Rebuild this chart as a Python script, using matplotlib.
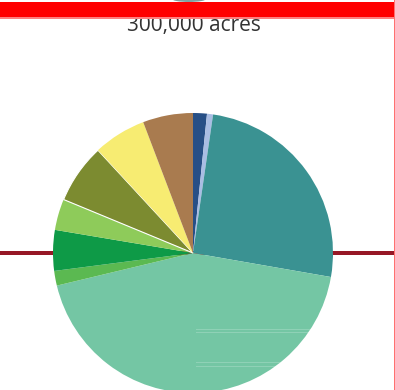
import matplotlib.pyplot as plt
from matplotlib.patches import Rectangle, Ellipse

# land use shares, clockwise from the top
categories = ['Dark blue', 'Light blue', 'Teal', 'Light teal', 'Mid green',
              'Green', 'Light green', 'Olive', 'Yellow', 'Brown']
shares = [1.6, 0.7, 25.5, 43.6, 1.7, 4.7, 3.6, 6.9, 6.1, 5.8]
colors = ['#274f86', '#a9bde3', '#3a9292', '#74c6a4', '#5bb951',
          '#0e9a47', '#8ecb5a', '#7c8b30', '#f7ec72', '#a97b4f']
total_label = '300,000 acres'

W, H = 395, 390
fig = plt.figure(figsize=(W / 100, H / 100), dpi=100)
fig.patch.set_facecolor('white')

# maroon rule across the page, behind the pie
fig.add_artist(Rectangle((0, (H - 255) / H), 1, 4 / H, transform=fig.transFigure,
                         facecolor='#961826', edgecolor='none', zorder=0))

cx, cy, r = 193, 253, 140
ax = fig.add_axes([(cx - r) / W, (H - cy - r) / H, 2 * r / W, 2 * r / H])
ax.set_zorder(1)
ax.patch.set_alpha(0)
wedges, _ = ax.pie(shares, colors=colors, startangle=90, counterclock=False,
                   radius=1, wedgeprops=dict(linewidth=0))
# thin white gap between olive and yellow
wedges[7].set_edgecolor('white')
wedges[7].set_linewidth(0.8)
ax.set_xlim(-1, 1)
ax.set_ylim(-1, 1)
ax.set_aspect('equal')
ax.axis('off')

# faint ghost rows inside the big slice
for y in [330, 333, 363, 367]:
    fig.add_artist(Rectangle((196 / W, (H - y) / H), 115 / W, 1 / H,
                             transform=fig.transFigure, facecolor='white',
                             edgecolor='none', alpha=0.2, zorder=3))

fig.text(194 / W, (H - 31) / H, total_label, ha='center', va='baseline',
         fontsize=15, color='#333333', family=['Open Sans', 'DejaVu Sans'], zorder=2)

# red header strip and page border
fig.add_artist(Ellipse((189 / W, (H + 1) / H), 34 / W, 6 / H, transform=fig.transFigure,
                       facecolor='#7fa3a3', edgecolor='none', zorder=4))
fig.add_artist(Rectangle((0, (H - 17) / H), 1, 15 / H, transform=fig.transFigure,
                         facecolor='#ff0000', edgecolor='none', zorder=5))
fig.add_artist(Rectangle((0, (H - 18.5) / H), 1, 1.2 / H, transform=fig.transFigure,
                         facecolor='#ff8080', edgecolor='none', zorder=5))
fig.add_artist(Rectangle(((W - 1.5) / W, 0), 1.2 / W, 1, transform=fig.transFigure,
                         facecolor='#ff7070', edgecolor='none', zorder=5))

fig.savefig('out.png', dpi=100, facecolor='white')
